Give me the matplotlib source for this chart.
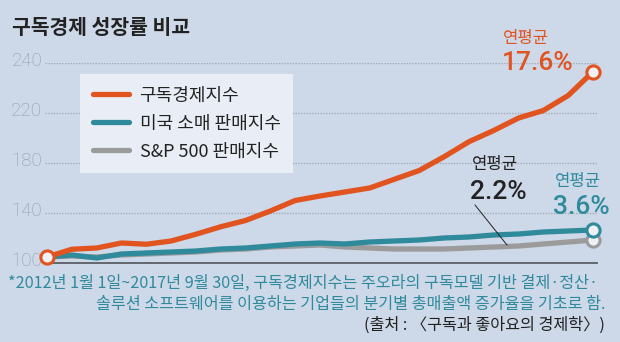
import matplotlib
matplotlib.use("Agg")
import matplotlib.pyplot as plt
from matplotlib.lines import Line2D
import matplotlib.transforms as mtransforms
import numpy as np

# ---- data (quarterly, 2012 Q1 .. 2017 Q3) ----
quarters = [f"{y}Q{q}" for y in range(2012, 2018) for q in range(1, 5)][:23]
subscription = [104.8, 111, 112, 116, 115, 117.6, 123, 129, 134, 141.6, 150, 153.6,
                156.8, 160, 167, 174, 185, 197, 206, 216, 222, 234, 253]
us_retail = [104.8, 106.4, 104, 107.2, 108, 108.8, 109.6, 111.2, 112, 113.6, 115.2, 116,
             115.2, 116.8, 117.6, 118.4, 120, 120.8, 122.4, 123.2, 124.8, 125.6, 126.4]
sp500 = [104.8, 105.6, 104.8, 106.4, 107.2, 108, 108.8, 110.4, 111.2, 112.8, 113.6, 114.4,
         112.8, 112, 111.2, 111.2, 111.2, 112, 112.8, 113.6, 115.2, 116.8, 118.4]
series_names = ["구독경제지수", "미국 소매 판매지수", "S&P 500 판매지수"]
ytick_values = [100, 140, 180, 220, 260]
ytick_labels = ["100", "140", "180", "220", "240"]
cagr_labels = ["17.6%", "3.6%", "2.2%"]

BG = "#cdd8e9"
ORANGE = "#e1531f"
TEAL = "#2f8a9b"
GRAY = "#9b9b9b"
DARK = "#222222"

KR = ["Noto Sans CJK KR", "DejaVu Sans"]
NUM = ["Roboto", "DejaVu Sans"]

W, H = 620, 342
fig = plt.figure(figsize=(W / 100, H / 100), dpi=100, facecolor=BG)


def px(x, y):
    return x / W, 1 - y / H


ax = fig.add_axes([45 / W, 1 - 263 / H, (597 - 45) / W, (263 - 63) / H])
ax.set_facecolor(BG)
x = np.arange(len(quarters))

lw = 3.8
ax.plot(x, sp500, color=GRAY, lw=lw, solid_capstyle="round", zorder=3)
ax.plot(x, us_retail, color=TEAL, lw=lw, solid_capstyle="round", zorder=4)
ax.plot(x, subscription, color=ORANGE, lw=lw, solid_capstyle="round", zorder=5)

mk = dict(marker="o", markersize=9.5, markerfacecolor="#eef0f4", markeredgewidth=2.2,
          linestyle="none", clip_on=False)
ax.plot([x[-1]], [sp500[-1]], markeredgecolor=GRAY, zorder=6, **mk)
ax.plot([x[-1]], [us_retail[-1]], markeredgecolor=TEAL, zorder=7, **mk)
ax.plot([x[-1]], [subscription[-1]], markeredgecolor=ORANGE, zorder=8, **mk)
ax.plot([x[0]], [subscription[0]], markeredgecolor=ORANGE, zorder=8, **mk)

ax.set_xlim(-2 / 24.8, 22 + 4 / 24.8)
ax.set_ylim(100, 260)
ax.set_xticks([])
for s in ["top", "right", "left"]:
    ax.spines[s].set_visible(False)
ax.spines["bottom"].set_color("#5a5f66")
ax.spines["bottom"].set_linewidth(1.3)
ax.tick_params(axis="y", length=0, pad=2)
ax.set_yticks(ytick_values)
ax.set_yticklabels(ytick_labels)
ax.yaxis.grid(True, color="#a3abb8", lw=1.0, linestyle=(0, (1, 1)))
ax.set_axisbelow(True)
ax.get_ygridlines()[0].set_visible(False)
offset = mtransforms.ScaledTranslation(0, 4 / 100, fig.dpi_scale_trans)
for lbl in ax.get_yticklabels():
    lbl.set_fontfamily(NUM)
    lbl.set_fontweight("light")
    lbl.set_fontsize(13.5)
    lbl.set_color("#969ba4")
    lbl.set_transform(lbl.get_transform() + offset)

# legend
handles = [Line2D([], [], color=c, lw=lw, solid_capstyle="round") for c in (ORANGE, TEAL, GRAY)]
leg = fig.legend(handles, series_names, loc="upper left", bbox_to_anchor=px(80, 74),
                 prop={"family": KR, "size": 13}, frameon=True, fancybox=False,
                 facecolor="#e9eef6", edgecolor="none", framealpha=1,
                 handlelength=2.0, handletextpad=0.6, borderpad=0.7,
                 labelspacing=0.55, borderaxespad=0)
for t in leg.get_texts():
    t.set_color(DARK)
leg.set_zorder(10)

# title
fig.text(*px(12, 27), "구독경제 성장률 비교", family=KR, fontsize=14.7, fontweight="bold",
         color=DARK, va="center", ha="left")

# annotations
fig.text(*px(503, 39), "연평균", family=KR, fontsize=12, color=ORANGE, va="center", ha="left")
fig.text(*px(502, 63), cagr_labels[0], family=NUM, fontsize=19, fontweight="medium",
         color=ORANGE, va="center", ha="left")
fig.text(*px(555, 181), "연평균", family=KR, fontsize=12, color=TEAL, va="center", ha="left")
fig.text(*px(553, 207), cagr_labels[1], family=NUM, fontsize=19, fontweight="medium",
         color=TEAL, va="center", ha="left")
fig.text(*px(472, 165), "연평균", family=KR, fontsize=12, color=DARK, va="center", ha="left")
fig.text(*px(470, 192), cagr_labels[2], family=NUM, fontsize=19, fontweight="medium",
         color=DARK, va="center", ha="left")
fig.add_artist(Line2D([475 / W, 507 / W], [1 - 205 / H, 1 - 245 / H], color=DARK, lw=0.7))

# footnote
fig.text(*px(8, 283), "*2012년 1월 1일~2017년 9월 30일, 구독경제지수는 주오라의 구독모델 기반 결제·정산·",
         family=KR, fontsize=11.7, color=TEAL, va="center", ha="left")
fig.text(*px(605, 304), "솔루션 소프트웨어를 이용하는 기업들의 분기별 총매출액 증가율을 기초로 함.",
         family=KR, fontsize=11.7, color=TEAL, va="center", ha="right")
fig.text(*px(605, 325), "(출처 : 〈구독과 좋아요의 경제학〉)",
         family=KR, fontsize=11.7, color=DARK, va="center", ha="right")

fig.savefig("out.png", dpi=100, facecolor=BG)
